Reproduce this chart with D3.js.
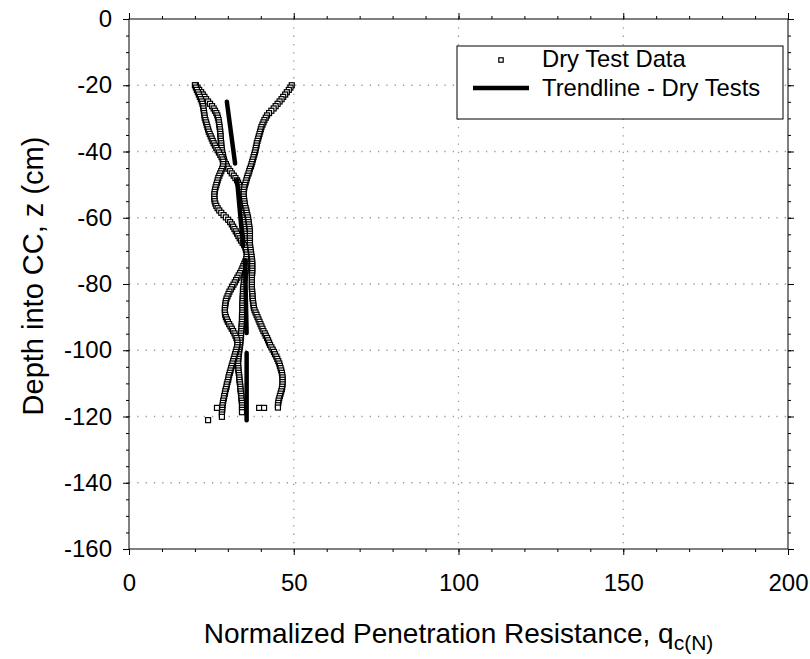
<!DOCTYPE html>
<html>
<head>
<meta charset="utf-8">
<script src="https://cdn.jsdelivr.net/npm/d3@7"></script>
<style>
  body { margin: 0; background: #fff; }
  svg { display: block; }
  text { font-family: "Liberation Sans", Arial, sans-serif; fill: #000; }
</style>
</head>
<body>
<svg id="chart" width="810" height="659"></svg>
<script>
// Sampling depths of the cone readings (cm below the surface of the CC layer)
const depthsCm = [
  -20.0,-20.7,-21.4,-22.1,-22.8,-23.5,-24.2,-24.9,-25.6,-26.3,
  -27.0,-27.7,-28.4,-29.1,-29.8,-30.5,-31.2,-31.9,-32.6,-33.3,
  -34.0,-34.7,-35.4,-36.1,-36.8,-37.5,-38.2,-38.9,-39.6,-40.3,
  -41.0,-41.7,-42.4,-43.1,-43.8,-44.5,-45.2,-45.9,-46.6,-47.3,
  -48.0,-48.7,-49.4,-50.1,-50.8,-51.5,-52.2,-52.9,-53.6,-54.3,
  -55.0,-55.7,-56.4,-57.1,-57.8,-58.5,-59.2,-59.9,-60.6,-61.3,
  -62.0,-62.7,-63.4,-64.1,-64.8,-65.5,-66.2,-66.9,-67.6,-68.3,
  -69.0,-69.7,-70.4,-71.1,-71.8,-72.5,-73.2,-73.9,-74.6,-75.3,
  -76.0,-76.7,-77.4,-78.1,-78.8,-79.5,-80.2,-80.9,-81.6,-82.3,
  -83.0,-83.7,-84.4,-85.1,-85.8,-86.5,-87.2,-87.9,-88.6,-89.3,
  -90.0,-90.7,-91.4,-92.1,-92.8,-93.5,-94.2,-94.9,-95.6,-96.3,
  -97.0,-97.7,-98.4,-99.1,-99.8,-100.5,-101.2,-101.9,-102.6,-103.3,
  -104.0,-104.7,-105.4,-106.1,-106.8,-107.5,-108.2,-108.9,-109.6,-110.3,
  -111.0,-111.7,-112.4,-113.1,-113.8,-114.5,-115.2,-115.9,-116.6,-117.3,
  -118.0,-118.7,-119.4,-120.1
];

// Normalized penetration resistance q_c(N) of each dry test at those depths
const dryTest1 = [
  20.3,20.8,21.3,21.9,22.4,22.9,23.4,24.0,24.6,25.2,
  25.7,26.1,26.5,26.8,27.0,27.2,27.3,27.4,27.5,27.6,
  27.7,27.7,27.8,27.8,27.9,28.0,28.0,28.1,28.2,28.3,
  28.5,28.6,28.8,29.0,29.4,29.7,30.2,30.7,31.2,31.8,
  32.3,32.8,33.1,33.4,33.7,33.9,34.2,34.3,34.4,34.4,
  34.5,34.5,34.6,34.6,34.6,34.7,34.8,34.9,35.0,35.1,
  35.2,35.3,35.4,35.5,35.6,35.7,35.8,35.8,35.9,35.9,
  36.0,36.0,36.1,36.1,36.0,35.9,35.8,35.7,35.6,35.5,
  35.4,35.3,35.2,35.1,35.0,34.9,34.8,34.7,34.6,34.6,
  34.6,34.5,34.5,34.5,34.4,34.4,34.4,34.4,34.4,34.3,
  34.3,34.3,34.3,34.2,34.2,34.1,34.1,34.0,34.0,33.9,
  33.8,33.8,33.7,33.6,33.5,33.4,33.3,33.2,33.2,33.1,
  33.1,33.1,33.2,33.2,33.3,33.4,33.5,33.5,33.6,33.7,
  33.8,33.8,33.9,34.0,34.1,34.1,34.2,34.3,34.3,34.3,
  34.3,34.3,null,null
];
const dryTest2 = [
  20.0,20.3,20.6,20.9,21.2,21.5,21.8,22.1,22.3,22.5,
  22.6,22.7,22.8,22.9,23.0,23.2,23.4,23.6,23.8,24.0,
  24.2,24.5,24.8,25.1,25.4,25.7,26.1,26.5,26.9,27.3,
  27.7,28.1,28.4,28.6,28.6,28.5,28.3,28.0,27.7,27.4,
  27.1,26.9,26.7,26.5,26.3,26.1,26.0,25.9,25.9,25.9,
  26.0,26.2,26.5,26.9,27.4,28.0,28.7,29.4,30.1,30.7,
  31.2,31.6,32.0,32.4,32.8,33.2,33.6,34.0,34.5,35.0,
  35.3,35.5,35.7,35.8,35.7,35.6,35.3,35.0,34.7,34.4,
  34.1,33.7,33.3,32.9,32.5,32.1,31.7,31.3,30.9,30.5,
  30.2,29.9,29.6,29.4,29.3,29.2,29.1,29.1,29.1,29.2,
  29.4,29.7,30.0,30.4,30.8,31.2,31.6,32.0,32.3,32.6,
  32.8,32.9,32.9,32.8,32.6,32.4,32.2,32.0,31.8,31.6,
  31.4,31.2,31.0,30.8,30.6,30.4,30.2,30.1,29.9,29.7,
  29.6,29.4,29.2,29.1,28.9,28.8,28.6,28.5,28.4,28.3,
  28.3,28.2,28.2,28.2
];
const dryTest3 = [
  49.4,49.0,48.5,47.9,47.4,46.8,46.3,45.7,45.1,44.5,
  43.9,43.2,42.5,41.9,41.5,41.1,40.8,40.5,40.2,40.0,
  39.8,39.6,39.4,39.2,39.0,38.8,38.7,38.5,38.4,38.2,
  38.0,37.8,37.6,37.4,37.2,37.0,36.7,36.5,36.3,36.0,
  35.8,35.6,35.4,35.2,35.0,34.9,34.8,34.8,34.8,34.9,
  35.0,35.1,35.2,35.4,35.6,35.7,35.9,36.1,36.2,36.3,
  36.4,36.5,36.6,36.7,36.7,36.7,36.7,36.7,36.7,36.7,
  36.8,36.9,37.0,37.1,37.2,37.3,37.4,37.4,37.4,37.4,
  37.4,37.4,37.3,37.3,37.3,37.3,37.3,37.3,37.3,37.4,
  37.4,37.5,37.5,37.6,37.7,37.8,37.9,38.1,38.4,38.7,
  39.0,39.3,39.6,39.9,40.2,40.5,40.8,41.2,41.5,41.9,
  42.2,42.5,42.8,43.2,43.6,44.0,44.3,44.7,45.0,45.3,
  45.6,45.8,46.0,46.2,46.4,46.5,46.6,46.6,46.6,46.6,
  46.5,46.4,46.2,46.0,45.8,45.6,45.4,45.3,45.2,45.2,
  null,null,null,null
];

// Last readings where the cone reached the base of the layer
const tipQc = [26.7, 24.0, 39.5, 41.0];
const tipDepth = [-117.4, -121.1, -117.4, -117.4];

// Trendline segments for the dry tests (start and end of each segment)
const trendQcTop = [29.7, 32.8, 35.2, 35.7];
const trendDepthTop = [-25.0, -48.6, -72.8, -100.8];
const trendQcBottom = [32.2, 34.6, 35.7, 35.7];
const trendDepthBottom = [-43.6, -68.5, -94.8, -121.1];

// Axis ticks
const xTicks = [0, 50, 100, 150, 200];
const yTicks = [0, -20, -40, -60, -80, -100, -120, -140, -160];
const xGrid = [50, 100, 150];
const yGrid = [-20, -40, -60, -80, -100, -120, -140];

const legendLabels = ["Dry Test Data", "Trendline - Dry Tests"];

const svg = d3.select("#chart");
const x = d3.scaleLinear().domain([0, 200]).range([129, 788]);
const y = d3.scaleLinear().domain([0, -160]).range([19, 549]);
const [x0, x1] = x.range();
const [y0, y1] = y.range();

// Dotted grid
const grid = svg.append("g").attr("stroke", "#9a9a9a").attr("stroke-width", 1.3)
  .attr("stroke-dasharray", "1.3,7");
grid.selectAll(".gx").data(xGrid).join("line").attr("class", "gx")
  .attr("x1", d => x(d)).attr("x2", d => x(d)).attr("y1", y0).attr("y2", y1);
grid.selectAll(".gy").data(yGrid).join("line").attr("class", "gy")
  .attr("x1", x0).attr("x2", x1).attr("y1", d => y(d)).attr("y2", d => y(d));

// Axes: major and minor ticks on all four sides, pointing outward
const plain = d => String(d);   // ASCII hyphen for negative depths
function tidy(g) {
  g.select(".domain").remove();
  g.selectAll("line").attr("stroke", "#000").attr("stroke-width", 1);
  g.selectAll("text").attr("font-size", 24)
    .attr("font-family", "'Liberation Sans', Arial, sans-serif").attr("fill", "#000");
}
const xMinor = d3.range(0, 201, 10);
const yMinor = d3.range(0, -161, -5);

svg.append("g").attr("transform", `translate(0,${y1})`)
  .call(d3.axisBottom(x).tickValues(xMinor).tickSize(3).tickFormat("")).call(tidy);
svg.append("g").attr("transform", `translate(0,${y1})`)
  .call(d3.axisBottom(x).tickValues(xTicks).tickSize(6).tickPadding(19)
    .tickFormat(plain)).call(tidy);
svg.append("g").attr("transform", `translate(0,${y0})`)
  .call(d3.axisTop(x).tickValues(xMinor).tickSize(3).tickFormat("")).call(tidy);
svg.append("g").attr("transform", `translate(0,${y0})`)
  .call(d3.axisTop(x).tickValues(xTicks).tickSize(6).tickFormat("")).call(tidy);

svg.append("g").attr("transform", `translate(${x0},0)`)
  .call(d3.axisLeft(y).tickValues(yMinor).tickSize(3).tickFormat("")).call(tidy);
svg.append("g").attr("transform", `translate(${x0},0)`)
  .call(d3.axisLeft(y).tickValues(yTicks).tickSize(6).tickPadding(11)
    .tickFormat(plain)).call(tidy);
svg.append("g").attr("transform", `translate(${x1},0)`)
  .call(d3.axisRight(y).tickValues(yMinor).tickSize(3).tickFormat("")).call(tidy);
svg.append("g").attr("transform", `translate(${x1},0)`)
  .call(d3.axisRight(y).tickValues(yTicks).tickSize(6).tickFormat("")).call(tidy);

// Plot frame
svg.append("rect").attr("x", x0).attr("y", y0).attr("width", x1 - x0).attr("height", y1 - y0)
  .attr("fill", "none").attr("stroke", "#000").attr("stroke-width", 1);

// Dry test readings as open squares
const tests = [dryTest1, dryTest2, dryTest3];
const points = [];
tests.forEach(series => series.forEach((q, i) => {
  if (q !== null) points.push({ q, z: depthsCm[i] });
}));
tipQc.forEach((q, i) => points.push({ q, z: tipDepth[i] }));

const sq = 5;
svg.append("g").selectAll("rect").data(points).join("rect")
  .attr("x", d => x(d.q) - sq / 2).attr("y", d => y(d.z) - sq / 2)
  .attr("width", sq).attr("height", sq)
  .attr("fill", "#fff").attr("stroke", "#000").attr("stroke-width", 1.2);

// Trendline segments
const segs = trendQcTop.map((q, i) => [[q, trendDepthTop[i]], [trendQcBottom[i], trendDepthBottom[i]]]);
const line = d3.line().x(d => x(d[0])).y(d => y(d[1]));
svg.append("g").selectAll("path").data(segs).join("path")
  .attr("d", line).attr("fill", "none").attr("stroke", "#000")
  .attr("stroke-width", 4.5).attr("stroke-linecap", "round");

// Legend
const lg = svg.append("g");
const lsq = 4.4;
lg.append("rect").attr("x", 457).attr("y", 46).attr("width", 326).attr("height", 73)
  .attr("fill", "#fff").attr("stroke", "#000").attr("stroke-width", 1);
lg.append("rect").attr("x", 501 - lsq / 2).attr("y", 60 - lsq / 2).attr("width", lsq).attr("height", lsq)
  .attr("fill", "#fff").attr("stroke", "#000").attr("stroke-width", 1.2);
lg.append("line").attr("x1", 473).attr("x2", 529).attr("y1", 88).attr("y2", 88)
  .attr("stroke", "#000").attr("stroke-width", 4.5);
lg.selectAll("text").data(legendLabels).join("text")
  .attr("x", 542).attr("y", (d, i) => 67 + i * 29)
  .attr("font-size", 23.8).text(d => d);

// Axis titles
const xt = svg.append("text").attr("x", (x0 + x1) / 2).attr("y", 643)
  .attr("text-anchor", "middle").attr("font-size", 28);
xt.append("tspan").text("Normalized Penetration Resistance, q");
xt.append("tspan").attr("dy", 7).attr("font-size", 21).text("c(N)");

svg.append("text").attr("transform", `translate(33,276) rotate(-90)`)
  .attr("text-anchor", "middle").attr("dominant-baseline", "central")
  .attr("font-size", 29).text("Depth into CC, z (cm)");
</script>
